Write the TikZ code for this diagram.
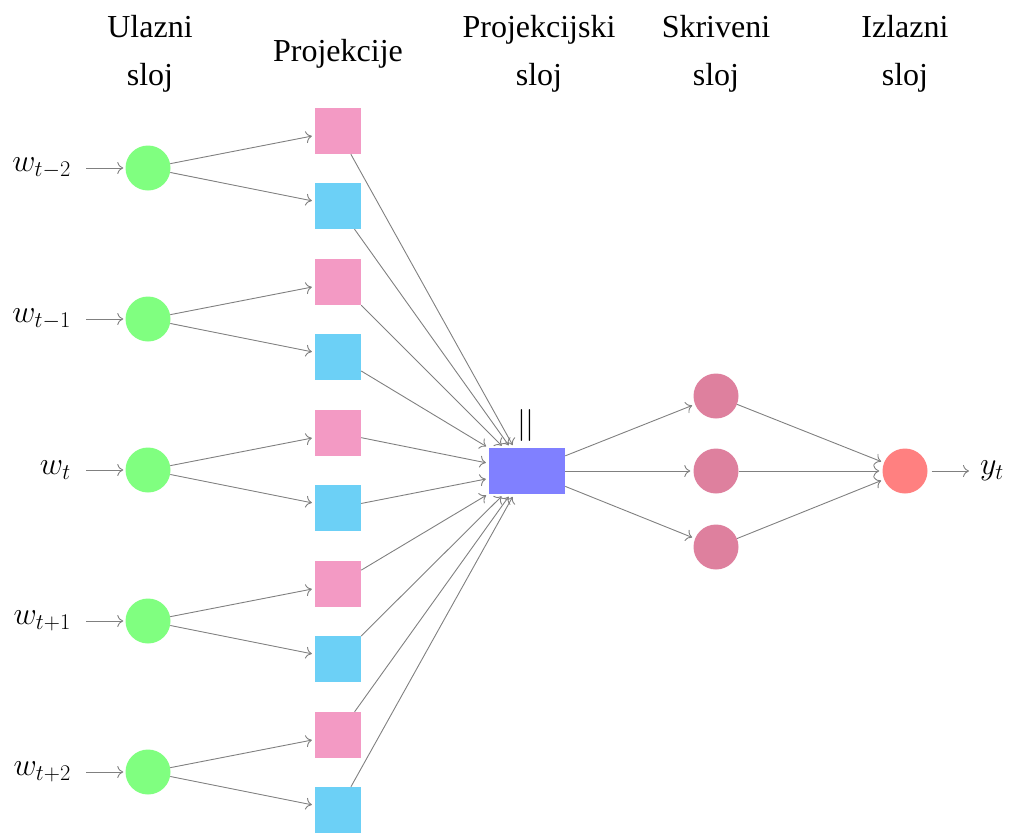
\RequirePackage{fix-cm}
\documentclass[tikz,border=0pt]{standalone}
\usepackage{fontspec}
\setmainfont{Liberation Serif}
\newfontfamily\headfont{Liberation Serif}
\usetikzlibrary{arrows.meta}
\definecolor{inputc}{RGB}{128,255,128}
\definecolor{projpink}{RGB}{243,154,196}
\definecolor{projblue}{RGB}{108,208,246}
\definecolor{concatc}{RGB}{128,128,255}
\definecolor{hiddenc}{RGB}{222,128,158}
\definecolor{outc}{RGB}{255,128,128}
\begin{document}
\begin{tikzpicture}[x=1pt,y=-1pt,
  every node/.style={font=\headfont\fontsize{32}{48}\selectfont},
  conn/.style={draw=gray, line width=0.9pt, -{To[length=6pt,width=12pt]}, shorten >=3pt},
  neuron/.style={circle, minimum size=45pt, inner sep=0pt},
  inneuron/.style={neuron, fill=inputc},
  hidneuron/.style={neuron, fill=hiddenc},
  outneuron/.style={neuron, fill=outc},
  pbox/.style={rectangle, minimum size=46pt, inner sep=0pt},
  header/.style={align=center, inner sep=0pt}]
\useasboundingbox (0,0) rectangle (1009,833);

% layer titles
\node[header] (h1) at (150,54) {Ulazni\\sloj};
\node[header] (h2) at (338,54) {Projekcije};
\node[header] (h3) at (539,54) {Projekcijski\\sloj};
\node[header] (h4) at (716,54) {Skriveni\\sloj};
\node[header] (h5) at (905,54) {Izlazni\\sloj};

% concatenated projection layer
\node[rectangle, fill=concatc, minimum width=76pt, minimum height=46pt, inner sep=0pt] (cat) at (527,471) {};
\node[inner sep=0pt] (bars) at (526,425) {$||$};

% input words, input neurons and their two projections
\foreach \i/\y/\lab in {1/168/{t-2}, 2/319/{t-1}, 3/470/{t}, 4/621/{t+1}, 5/772/{t+2}} {
  \node[anchor=east, inner sep=0pt] (w\i) at (71,\y) {$w_{\lab}$};
  \node[inneuron] (in\i) at (148,\y) {};
  \node[pbox, fill=projpink] (pa\i) at (338,\y-37) {};
  \node[pbox, fill=projblue] (pb\i) at (338,\y+38) {};
  \draw[conn, shorten <=15pt, shorten >=2pt] (w\i) -- (in\i);
  \draw[conn] (in\i) -- (pa\i);
  \draw[conn] (in\i) -- (pb\i);
  \draw[conn] (pa\i) -- (cat);
  \draw[conn] (pb\i) -- (cat);
}

% hidden layer
\node[hidneuron] (hd1) at (716,396) {};
\node[hidneuron] (hd2) at (716,471) {};
\node[hidneuron] (hd3) at (716,547) {};

% output
\node[outneuron] (out) at (905,471) {};
\node[anchor=west, inner sep=0pt] (y) at (980,471) {$y_t$};

\foreach \k in {1,2,3} {
  \draw[conn] (cat) -- (hd\k);
  \draw[conn] (hd\k) -- (out);
}
\draw[conn, shorten <=4pt, shorten >=11pt] (out) -- (y);
\end{tikzpicture}
\end{document}
